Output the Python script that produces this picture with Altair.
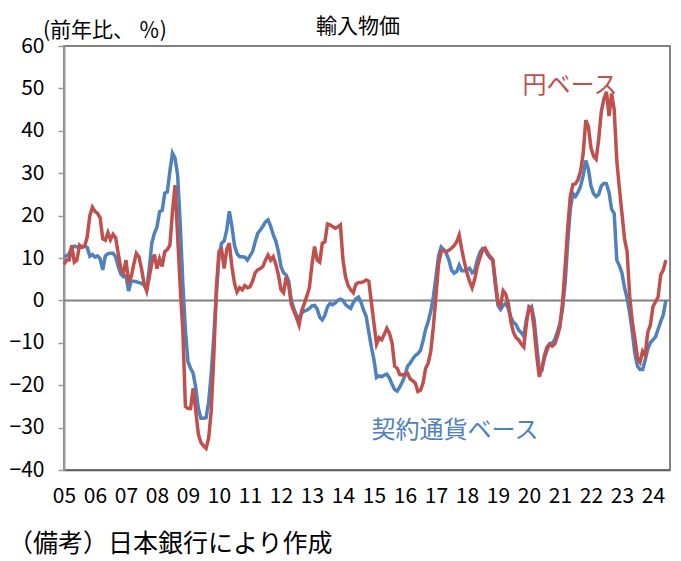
import altair as alt
import pandas as pd

FONT = "Noto Sans CJK JP"
RED = "#C0504D"
BLUE = "#4F81BD"

year_labels = ["05", "06", "07", "08", "09", "10", "11", "12", "13", "14",
               "15", "16", "17", "18", "19", "20", "21", "22", "23", "24"]

# 契約通貨ベース (monthly, Jan 2005 - Jun 2024, % y/y)
contract_basis = [
    10.3, 10.5, 11.0, 12.5, 12.8, 12.6, 12.5, 12.7, 12.8, 12.5, 10.4, 10.8,   # 2005
    10.2, 10.5, 9.8, 7.2, 10.5, 11.0, 11.1, 11.1, 10.3, 8.0, 6.2, 5.6,        # 2006
    5.8, 2.2, 4.6, 4.5, 4.4, 4.2, 4.0, 3.6, 2.6, 7.5, 13.5, 15.8,             # 2007
    17.3, 20.9, 21.2, 25.3, 25.6, 30.5, 34.7, 33.5, 29.5, 18.0, 4.0, -7.0,    # 2008
    -14.5, -16.0, -17.2, -20.5, -25.5, -27.8, -27.8, -27.7, -24.0, -17.2, -8.5, 1.5,  # 2009
    10.5, 13.5, 14.0, 16.6, 21.0, 17.5, 13.0, 11.0, 10.3, 10.3, 10.2, 9.5,    # 2010
    10.5, 11.5, 13.8, 15.8, 16.6, 17.5, 18.5, 19.0, 17.5, 15.5, 14.0, 11.5,   # 2011
    8.0, 6.5, 6.0, 4.5, 0.0, -2.0, -3.5, -4.5, -3.0, -2.5, -2.3, -1.9,        # 2012
    -1.3, -1.2, -2.0, -4.0, -4.6, -3.5, -1.5, -0.7, -1.0, -0.6, 0.0, 0.3,     # 2013
    0.0, -1.0, -1.5, -1.9, -0.5, 0.4, 0.8, -0.5, -2.3, -3.8, -7.5, -11.0,     # 2014
    -14.0, -18.2, -17.8, -18.0, -17.6, -17.4, -18.3, -19.8, -21.0, -21.4, -20.4, -19.2,  # 2015
    -17.8, -15.5, -14.8, -13.8, -13.0, -12.6, -11.8, -9.5, -6.8, -5.0, -2.5, 0.9,  # 2016
    5.5, 10.5, 12.6, 12.0, 11.1, 9.5, 7.2, 6.4, 6.8, 8.3, 7.0, 7.0,           # 2017
    7.2, 7.6, 6.5, 7.0, 9.5, 11.3, 12.2, 12.0, 10.8, 10.0, 9.5, 3.5,          # 2018
    -1.2, -2.1, -1.2, -0.7, -1.9, -4.0, -5.2, -5.7, -7.0, -7.6, -8.5, -4.5,   # 2019
    -2.2, -1.5, -4.5, -10.5, -16.5, -16.5, -13.5, -11.8, -10.2, -10.1, -9.2, -7.5,  # 2020
    -5.4, -2.0, 4.0, 13.5, 21.5, 25.2, 24.5, 25.5, 27.0, 29.5, 33.0, 31.0,    # 2021
    27.0, 25.2, 24.5, 25.0, 27.0, 27.6, 27.5, 25.5, 21.5, 20.5, 9.5, 8.2,     # 2022
    6.5, 3.0, 0.5, -3.0, -7.5, -12.5, -15.5, -16.3, -16.3, -14.0, -11.5, -10.0,  # 2023
    -9.3, -8.6, -6.8, -5.0, -3.4, 0.0,                                        # 2024
]

# 円ベース (monthly, Jan 2005 - Jun 2024, % y/y)
yen_basis = [
    8.5, 9.5, 9.5, 13.0, 9.0, 9.5, 13.0, 12.5, 12.8, 15.0, 20.0, 22.0,        # 2005
    21.0, 20.5, 19.5, 14.5, 14.2, 16.0, 14.3, 15.6, 14.8, 11.0, 7.5, 6.5,     # 2006
    9.5, 4.6, 5.5, 8.5, 11.1, 10.3, 7.5, 4.0, 2.2, 5.5, 8.8, 10.8,            # 2007
    7.5, 9.8, 8.0, 11.5, 12.0, 13.0, 21.0, 27.2, 15.0, 3.0, -7.0, -25.0,      # 2008
    -25.5, -25.5, -20.7, -26.0, -31.5, -33.5, -34.3, -34.9, -32.5, -26.0, -13.0, 3.0,  # 2009
    11.5, 12.0, 7.5, 12.0, 13.5, 8.0, 4.0, 2.0, 3.0, 2.5, 3.5, 3.0,           # 2010
    3.2, 4.5, 6.5, 7.2, 7.5, 8.0, 9.5, 10.7, 9.5, 10.3, 8.5, 6.0,             # 2011
    2.5, 1.8, 5.5, 3.5, -1.0, -2.5, -4.0, -5.8, -2.5, -0.8, 1.0, 3.0,         # 2012
    8.5, 12.7, 9.5, 9.0, 13.5, 13.8, 18.0, 17.8, 17.4, 17.0, 17.3, 17.8,      # 2013
    9.5, 5.5, 3.5, 2.5, 1.8, 3.8, 4.2, 4.2, 4.4, 4.8, 4.5, -0.5,              # 2014
    -5.5, -10.3, -8.8, -9.3, -8.0, -6.6, -7.8, -10.0, -15.5, -16.0, -17.5, -17.6,  # 2015
    -17.4, -17.2, -18.5, -19.0, -19.5, -21.5, -21.2, -19.5, -16.0, -14.8, -12.0, -6.2,  # 2016
    1.0, 8.5, 11.5, 11.8, 11.5, 11.8, 12.3, 12.9, 13.8, 15.4, 12.0, 9.0,      # 2017
    6.5, 4.5, 3.0, 5.0, 8.0, 10.0, 11.8, 12.3, 11.2, 10.3, 9.6, 4.5,          # 2018
    -0.5, -1.2, 2.3, 1.5, -0.7, -5.0, -7.5, -8.8, -9.3, -10.3, -11.0, -5.5,   # 2019
    -1.5, -2.0, -6.5, -13.0, -18.0, -16.0, -13.0, -11.0, -10.3, -10.8, -10.3, -8.5,  # 2020
    -6.2, -0.5, 7.9, 17.0, 24.5, 27.3, 27.5, 28.5, 30.5, 34.7, 42.5, 41.0,    # 2021
    36.0, 34.0, 33.3, 38.0, 44.5, 47.5, 49.2, 43.5, 48.8, 45.0, 33.0, 26.5,   # 2022
    20.5, 14.5, 11.5, 1.0, -5.0, -9.0, -13.5, -14.5, -12.0, -13.0, -7.5, -5.8,  # 2023
    -1.5, -0.3, 0.8, 6.0, 7.2, 9.5,                                           # 2024
]

n = len(yen_basis)
months = list(range(n))
df_blue = pd.DataFrame({"m": months, "value": contract_basis})
df_red = pd.DataFrame({"m": months, "value": yen_basis})
df_zero = pd.DataFrame({"value": [0]})

W, H = 606, 424
label_array = "[" + ",".join("'" + s + "'" for s in year_labels) + "]"

x_enc = alt.X(
    "m:Q",
    scale=alt.Scale(domain=[0, 234.6], nice=False, zero=False),
    axis=alt.Axis(
        values=list(range(0, 12 * len(year_labels), 12)),
        labelExpr=label_array + "[round(datum.value / 12)]",
        title=None, grid=False, ticks=False, labelPadding=15,
        labelFont=FONT, labelFontSize=21, labelColor="#000",
        domainColor="#595959", domainWidth=1.5, labelFlush=False,
        labelOverlap=False, labelBound=False,
    ),
)
y_enc = alt.Y(
    "value:Q",
    scale=alt.Scale(domain=[-40, 60], nice=False, zero=False),
    axis=alt.Axis(
        values=list(range(-40, 61, 10)), title=None, grid=False,
        tickSize=6, tickColor="#999999", tickWidth=1.5,
        domainColor="#999999", domainWidth=2, labelPadding=14,
        labelFont=FONT, labelFontSize=21, labelColor="#000",
        labelOverlap=False,
    ),
)

zero = alt.Chart(df_zero).mark_rule(color="#808080", strokeWidth=2).encode(y=y_enc)
blue = alt.Chart(df_blue).mark_line(color=BLUE, strokeWidth=3.5).encode(x=x_enc, y=y_enc)
red = alt.Chart(df_red).mark_line(color=RED, strokeWidth=3.5).encode(x=x_enc, y=y_enc)


def label(text, px, py, color="#000", size=20, align="left"):
    return alt.Chart(pd.DataFrame({"t": [text]})).mark_text(
        font=FONT, fontSize=size, color=color, align=align, baseline="alphabetic"
    ).encode(x=alt.value(px), y=alt.value(py), text="t:N")


texts = [
    label("輸入物価", 294, -13, size=21, align="center"),
    label("(前年比、 ％)", -21, -9, size=21),
    label("円ベース", 506, 47, color=RED, size=24, align="center"),
    label("契約通貨ベース", 391, 392, color=BLUE, size=24, align="center"),
    label("（備考）日本銀行により作成", -56, 506, size=25),
]

chart = alt.layer(zero, blue, red, *texts).properties(
    width=W, height=H,
    autosize=alt.AutoSizeParams(type="none"),
    padding={"left": 56, "top": 38, "right": 3, "bottom": 90},
).configure_view(stroke="#595959", strokeWidth=1.5)

chart.save("out.html", embed_options={"renderer": "svg", "actions": False})
